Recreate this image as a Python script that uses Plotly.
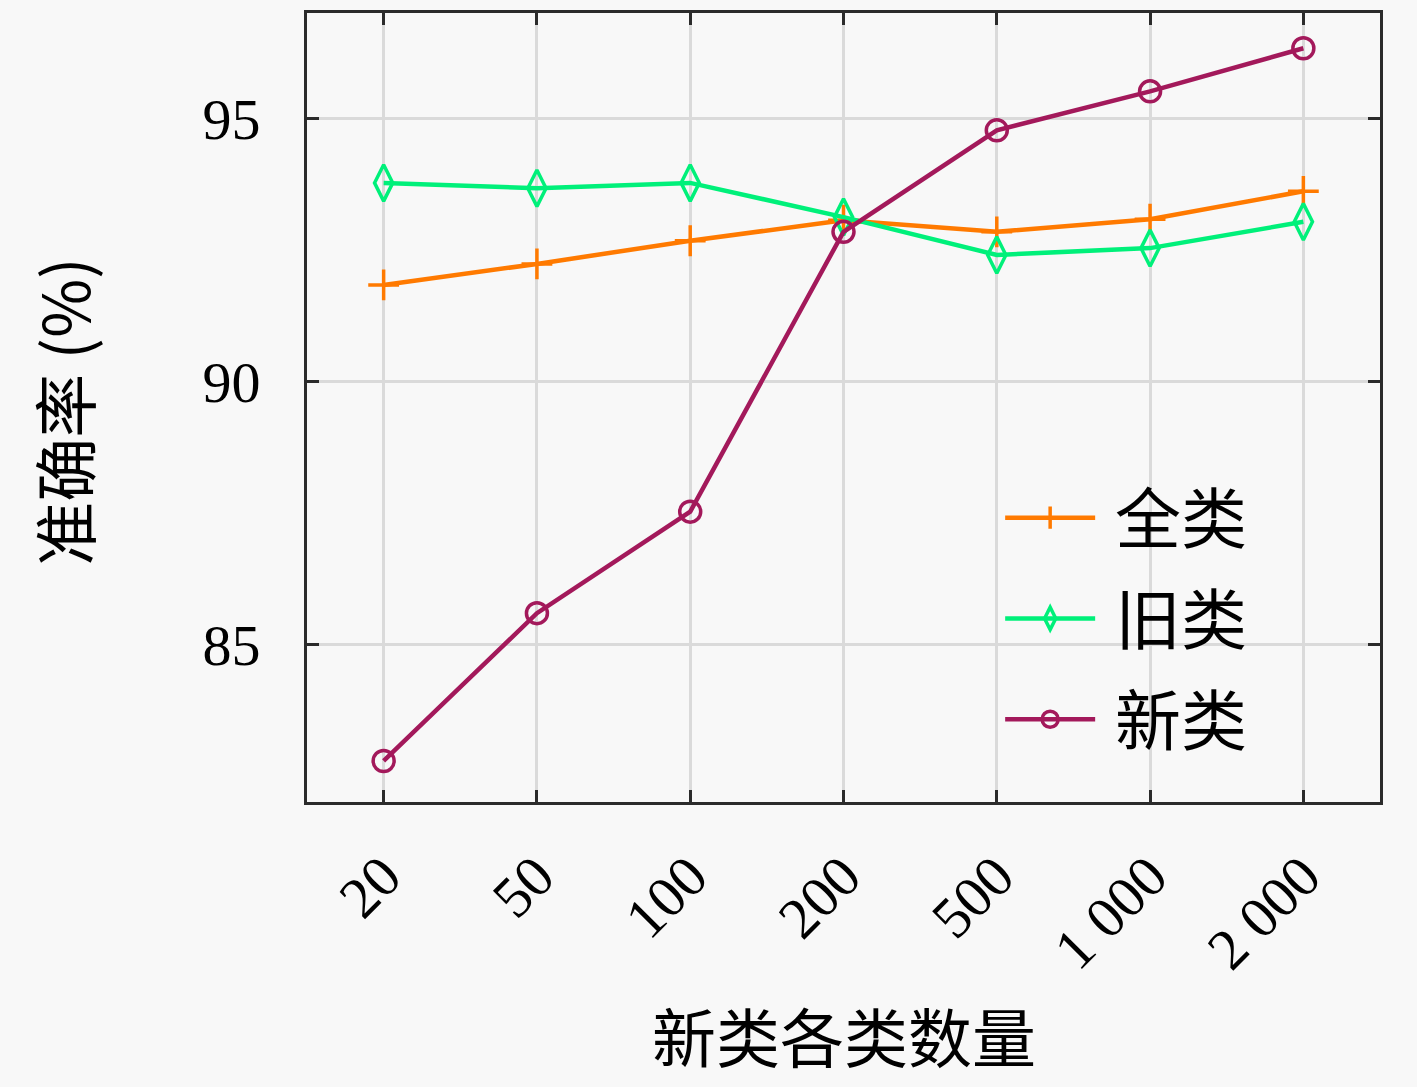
import plotly.graph_objects as go

# 新类各类数量
categories = ["20", "50", "100", "200", "500", "1 000", "2 000"]

quan_lei = [91.83, 92.23, 92.67, 93.06, 92.84, 93.08, 93.61]   # 全类
jiu_lei = [93.77, 93.67, 93.77, 93.12, 92.40, 92.53, 93.03]    # 旧类
xin_lei = [82.78, 85.59, 87.52, 92.84, 94.77, 95.51, 96.33]    # 新类

BG = "#f8f8f8"
SERIF = "Liberation Serif, DejaVu Serif, serif"
CJK = "Noto Sans CJK SC"
NB = "\u00a0"  # 图例中线与文字之间的间隔

fig = go.Figure()

fig.add_trace(go.Scatter(
    x=categories, y=quan_lei, name=NB + "全类", mode="lines+markers", legendgroup="a",
    line=dict(color="#ff7a00", width=4.5),
    marker=dict(symbol="cross-thin-open", size=22, line=dict(color="#ff7a00", width=3.5)),
))
fig.add_trace(go.Scatter(
    x=categories, y=jiu_lei, name=NB + "旧类", mode="lines+markers", legendgroup="b",
    line=dict(color="#00f07a", width=4.5),
    marker=dict(symbol="diamond-tall-open", size=26, line=dict(color="#00f07a", width=3.5)),
))
fig.add_trace(go.Scatter(
    x=categories, y=xin_lei, name=NB + "新类", mode="lines+markers", legendgroup="c",
    line=dict(color="#a3195b", width=4.5),
    marker=dict(symbol="circle-open", size=21, line=dict(color="#a3195b", width=3.5)),
))

axis_common = dict(
    showline=True, linecolor="#2b2b2b", linewidth=3, mirror="ticks",
    ticks="inside", ticklen=12, tickwidth=3, tickcolor="#2b2b2b",
    showgrid=True, gridcolor="#dadada", gridwidth=3,
    zeroline=False,
    tickfont=dict(family=SERIF, size=58, color="black"),
)

fig.update_xaxes(**axis_common, type="category", range=[-0.5, 6.5],
                 tickangle=-45, ticklabelstandoff=14)
fig.update_yaxes(**axis_common, range=[82, 97], tickvals=[85, 90, 95],
                 ticklabelstandoff=32)

fig.update_layout(
    width=1417, height=1087,
    margin=dict(l=307, r=37, t=10, b=285),
    paper_bgcolor=BG, plot_bgcolor=BG,
    showlegend=True,
    legend=dict(
        x=0.646, y=0.423, xanchor="left", yanchor="top",
        bgcolor="rgba(0,0,0,0)", borderwidth=0,
        font=dict(family=CJK, size=66, color="black"),
        itemwidth=90, tracegroupgap=12,
    ),
    # 图例背景遮住网格线
    shapes=[dict(
        type="rect", xref="paper", yref="paper",
        x0=0.581, x1=0.946, y0=0.006, y1=0.419,
        fillcolor=BG, line=dict(width=0), layer="between",
    )],
    annotations=[
        dict(text="新类各类数量", xref="paper", yref="paper", x=0.5, y=-0.294,
             xanchor="center", yanchor="middle", showarrow=False,
             font=dict(family=CJK, size=64, color="black")),
        dict(text="准确率 (%)", xref="paper", yref="paper", x=-0.228, y=0.495,
             xanchor="center", yanchor="middle", showarrow=False, textangle=-90,
             font=dict(family=CJK, size=64, color="black")),
    ],
)

fig.write_html(
    "out.html",
    config={"displayModeBar": False},
    post_script="document.body.style.margin='0';document.body.style.background='%s';" % BG,
)
